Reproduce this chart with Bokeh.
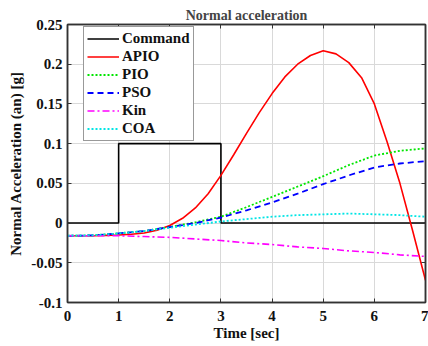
from bokeh.plotting import figure
from bokeh.models import Legend, LegendItem, FixedTicker, CustomJSTickFormatter, LinearAxis
from bokeh.embed import file_html
from bokeh.resources import INLINE

# ---- data ----
t_cmd = [0, 1, 1, 3, 3, 7]
command = [0, 0, 0.1, 0.1, 0, 0]

t_apio = [0, 0.25, 0.5, 0.75, 1, 1.25, 1.5, 1.75, 2, 2.25, 2.5, 2.75, 3, 3.25, 3.5,
          3.75, 4, 4.25, 4.5, 4.75, 5, 5.25, 5.5, 5.75, 6, 6.25, 6.5, 6.75, 7]
apio = [-0.016, -0.016, -0.016, -0.0155, -0.015, -0.014, -0.0125, -0.009, -0.003, 0.006,
        0.019, 0.037, 0.060, 0.086, 0.113, 0.139, 0.163, 0.184, 0.200, 0.211, 0.217,
        0.213, 0.202, 0.183, 0.150, 0.102, 0.050, -0.010, -0.072]

t = [0, 0.5, 1, 1.5, 2, 2.5, 3, 3.5, 4, 4.5, 5, 5.5, 6, 6.5, 7]
pio = [-0.016, -0.0155, -0.013, -0.010, -0.005, 0.001, 0.008, 0.020, 0.033, 0.046,
       0.059, 0.073, 0.085, 0.091, 0.094]
pso = [-0.016, -0.0155, -0.013, -0.010, -0.005, 0.000, 0.007, 0.016, 0.026, 0.037,
       0.049, 0.060, 0.070, 0.075, 0.078]
kin = [-0.016, -0.016, -0.016, -0.017, -0.018, -0.020, -0.022, -0.025, -0.027, -0.030,
       -0.032, -0.035, -0.037, -0.040, -0.042]
coa = [-0.016, -0.0155, -0.013, -0.010, -0.006, -0.002, 0.002, 0.005, 0.008, 0.010,
       0.011, 0.012, 0.011, 0.010, 0.008]

x_ticks = [0, 1, 2, 3, 4, 5, 6, 7]
y_ticks = [-0.1, -0.05, 0, 0.05, 0.1, 0.15, 0.2, 0.25]

FONT = "Liberation Serif"

p = figure(frame_width=358, frame_height=278, x_range=(0, 7), y_range=(-0.1, 0.25),
           output_backend="svg", toolbar_location=None,
           min_border_left=67, min_border_right=3, min_border_top=24, min_border_bottom=44,
           background_fill_color="white", border_fill_color="white")

xb = p.below[0]
yl = p.left[0]

p.title.text = "Normal acceleration"
p.title.align = "center"
p.title.text_font = FONT
p.title.text_font_style = "bold"
p.title.text_font_size = "14px"
p.title.offset = 0
p.title.standoff = 3

p.outline_line_color = "#333333"
p.outline_line_width = 1.5
p.outline_line_alpha = 1

blank = CustomJSTickFormatter(code="return '';")
right_ax = LinearAxis(formatter=blank, major_label_standoff=0, major_label_text_font_size="1px")
top_ax = LinearAxis(formatter=blank, major_label_standoff=0, major_label_text_font_size="1px")
p.add_layout(right_ax, "right")
p.add_layout(top_ax, "above")

for ax in (xb, yl):
    ax.major_label_text_font = FONT
    ax.major_label_text_font_style = "bold"
    ax.major_label_text_font_size = "15px"
    ax.axis_label_text_font = FONT
    ax.axis_label_text_font_style = "bold"
    ax.axis_label_text_font_size = "15px"
    ax.major_label_text_color = "#111111"
    ax.axis_label_text_color = "#111111"

for ax in (xb, yl, right_ax, top_ax):
    ax.major_tick_in = 4
    ax.major_tick_out = 0
    ax.minor_tick_line_color = None
    ax.axis_line_color = "#333333"
    ax.axis_line_width = 1.5
    ax.major_tick_line_color = "#333333"

xb.ticker = FixedTicker(ticks=x_ticks)
top_ax.ticker = FixedTicker(ticks=x_ticks)
yl.ticker = FixedTicker(ticks=y_ticks)
right_ax.ticker = FixedTicker(ticks=y_ticks)

yl.formatter = CustomJSTickFormatter(code="return Number(tick.toFixed(2)).toString();")
xb.axis_label = "Time [sec]"
yl.axis_label = "Normal Acceleration (an) [g]"
xb.axis_label_standoff = 1
yl.axis_label_standoff = 4
xb.major_label_standoff = 8
yl.major_label_standoff = 5

p.grid.grid_line_color = "#d9d9d9"
p.grid.grid_line_width = 1

r_cmd = p.line(t_cmd, command, line_color="black", line_width=1.6)
r_apio = p.line(t_apio, apio, line_color="#ff0000", line_width=1.6)
r_pio = p.line(t, pio, line_color="#00e600", line_width=1.8, line_dash="2 2")
r_pso = p.line(t, pso, line_color="#0000ff", line_width=1.8, line_dash="6 4")
r_kin = p.line(t, kin, line_color="#ff00ff", line_width=1.6, line_dash="7 3 2 3")
r_coa = p.line(t, coa, line_color="#00e5e5", line_width=1.8, line_dash="2 2")

legend = Legend(items=[
    LegendItem(label="Command", renderers=[r_cmd]),
    LegendItem(label="APIO", renderers=[r_apio]),
    LegendItem(label="PIO", renderers=[r_pio]),
    LegendItem(label="PSO", renderers=[r_pso]),
    LegendItem(label="Kin", renderers=[r_kin]),
    LegendItem(label="COA", renderers=[r_coa]),
], location=(16, 161))
legend.label_text_font = FONT
legend.label_text_font_style = "bold"
legend.label_text_font_size = "15px"
legend.label_text_color = "#111111"
legend.label_height = 17
legend.glyph_height = 17
legend.glyph_width = 32
legend.label_standoff = 3
legend.spacing = 1
legend.padding = 3
legend.margin = 0
legend.border_line_color = "#333333"
legend.border_line_width = 1.2
legend.background_fill_alpha = 1
p.add_layout(legend, "center")

open("out.html", "w").write(file_html(p, INLINE))
